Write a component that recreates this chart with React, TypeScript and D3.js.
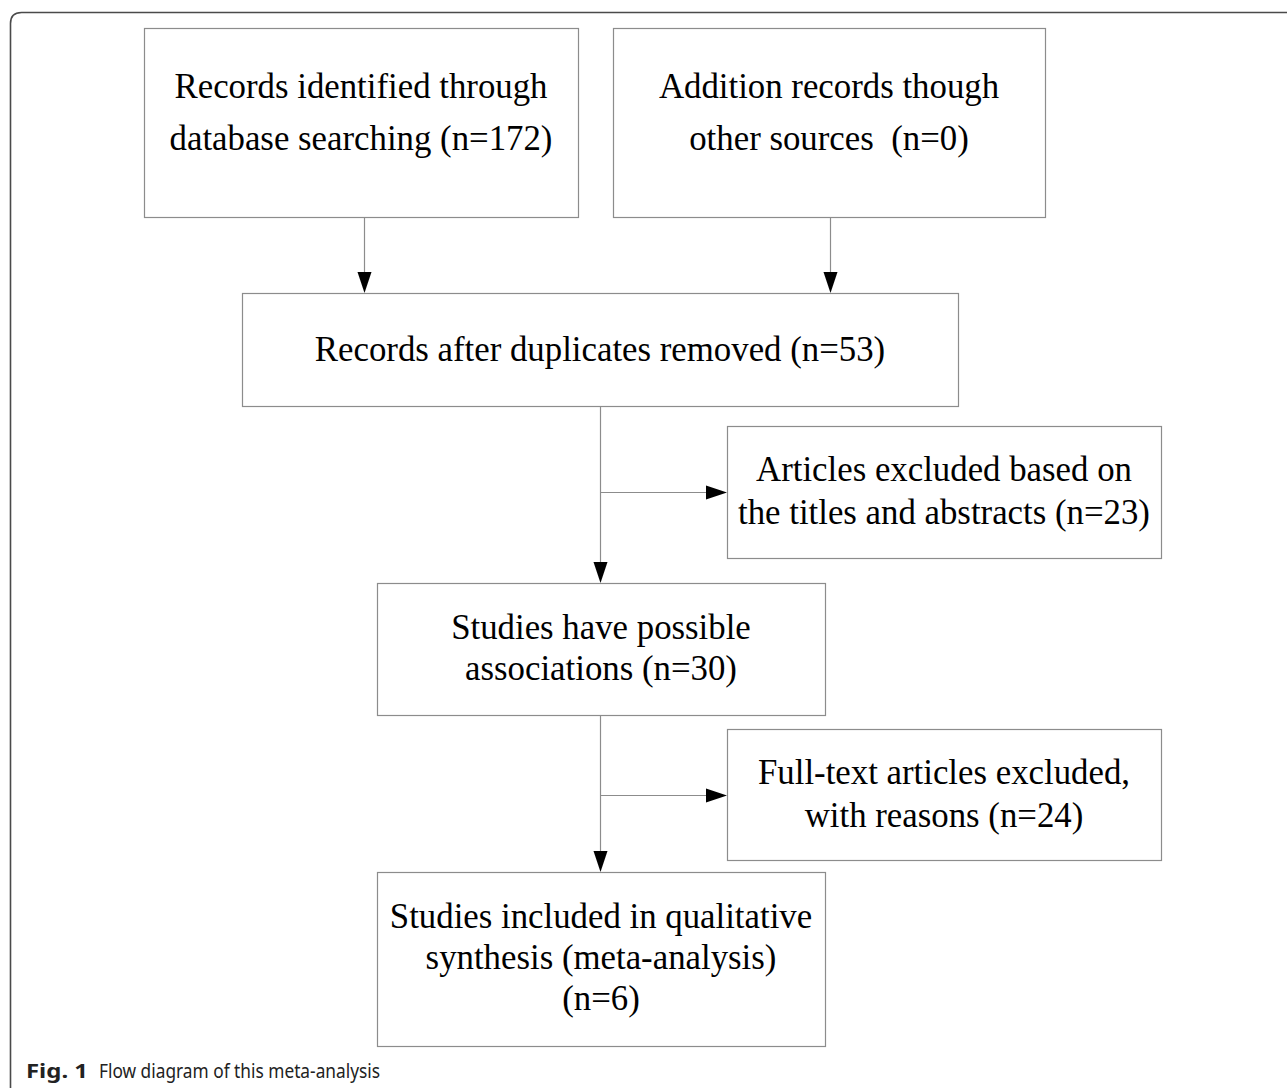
import * as d3 from 'd3';
import React, { useEffect, useRef } from 'react';

// Text of each stage, one entry per line
const identifiedLines = ['Records identified through', 'database searching (n=172)'];
const otherSourceLines = ['Addition records though', 'other sources  (n=0)'];
const dedupLines = ['Records after duplicates removed (n=53)'];
const excludedTitleLines = ['Articles excluded based on', 'the titles and abstracts (n=23)'];
const possibleLines = ['Studies have possible', 'associations (n=30)'];
const excludedFullLines = ['Full-text articles excluded,', 'with reasons (n=24)'];
const includedLines = ['Studies included in qualitative', 'synthesis (meta-analysis)', '(n=6)'];

const captionBold = 'Fig. 1';
const captionText = 'Flow diagram of this meta-analysis';

type Box = { x0: number; y0: number; x1: number; y1: number; lines: string[]; base: number; step: number };

const W = 1287;
const H = 1088;
const SERIF = 'Liberation Serif, Tinos, Times New Roman, Times, serif';

const App: React.FC = () => {
  const ref = useRef<SVGSVGElement>(null);

  useEffect(() => {
    const svg = d3.select(ref.current);
    svg.selectAll('*').remove();

    const boxes: Record<string, Box> = {
      ident: { x0: 144, y0: 28, x1: 578, y1: 217, lines: identifiedLines, base: 98, step: 52 },
      other: { x0: 613, y0: 28, x1: 1045, y1: 217, lines: otherSourceLines, base: 98, step: 52 },
      dedup: { x0: 242, y0: 293, x1: 958, y1: 406, lines: dedupLines, base: 361, step: 0 },
      exTitle: { x0: 727, y0: 426, x1: 1161, y1: 558, lines: excludedTitleLines, base: 481, step: 43 },
      possible: { x0: 377, y0: 583, x1: 825, y1: 715, lines: possibleLines, base: 639, step: 41 },
      exFull: { x0: 727, y0: 729, x1: 1161, y1: 860, lines: excludedFullLines, base: 784, step: 43 },
      incl: { x0: 377, y0: 872, x1: 825, y1: 1046, lines: includedLines, base: 928, step: 41 },
    };

    // outer frame with rounded top-left corner
    const r = 11;
    svg
      .append('path')
      .attr('d', `M10.5,${H + 5} L10.5,${12.5 + r} Q10.5,12.5 ${10.5 + r},12.5 L${W + 5},12.5`)
      .attr('fill', 'none')
      .attr('stroke', '#4a4a4a')
      .attr('stroke-width', 1.6);

    const g = svg.append('g');
    const list = Object.values(boxes);

    g.selectAll('rect')
      .data(list)
      .join('rect')
      .attr('x', d => d.x0 + 0.5)
      .attr('y', d => d.y0 + 0.5)
      .attr('width', d => d.x1 - d.x0)
      .attr('height', d => d.y1 - d.y0)
      .attr('fill', '#fff')
      .attr('stroke', '#8c8c8c')
      .attr('stroke-width', 1.2);

    list.forEach(b => {
      const cx = (b.x0 + b.x1) / 2;
      g.append('text')
        .style('font-family', SERIF)
        .attr('font-size', 34.8)
        .attr('fill', '#000')
        .attr('text-anchor', 'middle')
        .attr('xml:space', 'preserve')
        .style('white-space', 'pre')
        .selectAll('tspan')
        .data(b.lines)
        .join('tspan')
        .attr('x', cx)
        .attr('y', (_, i) => b.base + i * b.step)
        .text(d => d);
    });

    // connectors
    const line = d3.line<[number, number]>();
    const head = (x: number, y: number, dir: 'down' | 'right') => {
      const L = 21;
      const hw = 7;
      const pts: [number, number][] =
        dir === 'down'
          ? [[x - hw, y - L], [x + hw, y - L], [x, y]]
          : [[x - L, y - hw], [x - L, y + hw], [x, y]];
      g.append('path').attr('d', line(pts) + 'Z').attr('fill', '#000');
    };
    const seg = (a: [number, number], b: [number, number]) =>
      g.append('path').attr('d', line([a, b])).attr('stroke', '#8c8c8c').attr('stroke-width', 1.2).attr('fill', 'none');

    const mid = 600.5;
    seg([364.5, boxes.ident.y1], [364.5, boxes.dedup.y0 - 10]);
    head(364.5, boxes.dedup.y0, 'down');
    seg([830.5, boxes.other.y1], [830.5, boxes.dedup.y0 - 10]);
    head(830.5, boxes.dedup.y0, 'down');

    seg([mid, boxes.dedup.y1], [mid, boxes.possible.y0 - 10]);
    head(mid, boxes.possible.y0, 'down');
    seg([mid, 492.5], [boxes.exTitle.x0 - 10, 492.5]);
    head(boxes.exTitle.x0, 492.5, 'right');

    seg([mid, boxes.possible.y1], [mid, boxes.incl.y0 - 10]);
    head(mid, boxes.incl.y0, 'down');
    seg([mid, 795.5], [boxes.exFull.x0 - 10, 795.5]);
    head(boxes.exFull.x0, 795.5, 'right');

    // caption
    const capFont = 'Noto Sans, Open Sans, sans-serif';
    svg
      .append('text')
      .attr('x', 26)
      .attr('y', 1078)
      .style('font-family', capFont)
      .attr('font-size', 20)
      .attr('font-weight', 'bold')
      .attr('fill', '#222')
      .attr('textLength', 62)
      .attr('lengthAdjust', 'spacingAndGlyphs')
      .text(captionBold);
    svg
      .append('text')
      .attr('x', 99)
      .attr('y', 1078)
      .style('font-family', capFont)
      .attr('font-size', 20)
      .attr('fill', '#222')
      .attr('textLength', 281)
      .attr('lengthAdjust', 'spacingAndGlyphs')
      .text(captionText);
  }, []);

  return (
    <svg
      ref={ref}
      width={W}
      height={H}
      viewBox={`0 0 ${W} ${H}`}
      style={{ position: 'absolute', left: 0, top: 0, background: '#fff', display: 'block' }}
    />
  );
};

export default App;
